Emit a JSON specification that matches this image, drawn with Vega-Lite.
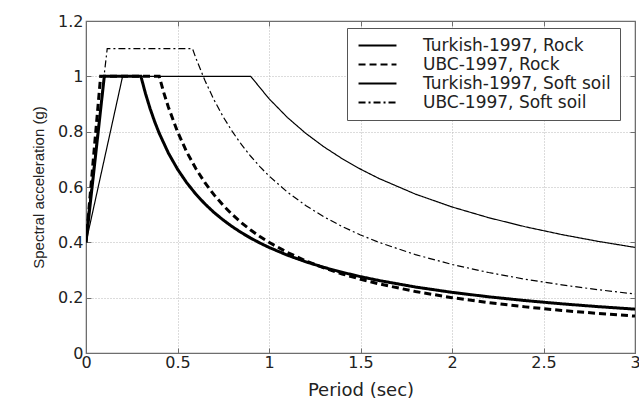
{
  "$schema": "https://vega.github.io/schema/vega-lite/v6.json",
  "width": 549,
  "height": 332,
  "autosize": {"type": "none"},
  "padding": {"left": 86, "top": 21, "right": 4, "bottom": 53},
  "background": "white",
  "config": {
    "font": "DejaVu Sans",
    "view": {"stroke": "#6e6e6e", "strokeWidth": 1.2},
    "axis": {
      "labelFont": "DejaVu Sans",
      "titleFont": "DejaVu Sans",
      "labelColor": "#222",
      "titleColor": "#222",
      "domainColor": "#6e6e6e",
      "tickColor": "#6e6e6e",
      "gridColor": "#b8b8b8",
      "gridDash": [1, 2],
      "gridWidth": 1,
      "titleFontWeight": "normal"
    }
  },
  "data": {
    "values": [
      {"series": "Turkish-1997, Rock", "site": "Rock", "T": 0, "Sa": 0.4},
      {"series": "Turkish-1997, Rock", "site": "Rock", "T": 0.1, "Sa": 1.0},
      {"series": "Turkish-1997, Rock", "site": "Rock", "T": 0.3, "Sa": 1.0},
      {"series": "Turkish-1997, Rock", "site": "Rock", "T": 0.325, "Sa": 0.938},
      {"series": "Turkish-1997, Rock", "site": "Rock", "T": 0.35, "Sa": 0.884},
      {"series": "Turkish-1997, Rock", "site": "Rock", "T": 0.375, "Sa": 0.8365},
      {"series": "Turkish-1997, Rock", "site": "Rock", "T": 0.4, "Sa": 0.7944},
      {"series": "Turkish-1997, Rock", "site": "Rock", "T": 0.45, "Sa": 0.723},
      {"series": "Turkish-1997, Rock", "site": "Rock", "T": 0.5, "Sa": 0.6645},
      {"series": "Turkish-1997, Rock", "site": "Rock", "T": 0.55, "Sa": 0.6158},
      {"series": "Turkish-1997, Rock", "site": "Rock", "T": 0.6, "Sa": 0.5743},
      {"series": "Turkish-1997, Rock", "site": "Rock", "T": 0.65, "Sa": 0.5387},
      {"series": "Turkish-1997, Rock", "site": "Rock", "T": 0.7, "Sa": 0.5077},
      {"series": "Turkish-1997, Rock", "site": "Rock", "T": 0.75, "Sa": 0.4805},
      {"series": "Turkish-1997, Rock", "site": "Rock", "T": 0.8, "Sa": 0.4563},
      {"series": "Turkish-1997, Rock", "site": "Rock", "T": 0.85, "Sa": 0.4347},
      {"series": "Turkish-1997, Rock", "site": "Rock", "T": 0.9, "Sa": 0.4152},
      {"series": "Turkish-1997, Rock", "site": "Rock", "T": 0.95, "Sa": 0.3977},
      {"series": "Turkish-1997, Rock", "site": "Rock", "T": 1.0, "Sa": 0.3817},
      {"series": "Turkish-1997, Rock", "site": "Rock", "T": 1.1, "Sa": 0.3537},
      {"series": "Turkish-1997, Rock", "site": "Rock", "T": 1.2, "Sa": 0.3299},
      {"series": "Turkish-1997, Rock", "site": "Rock", "T": 1.3, "Sa": 0.3094},
      {"series": "Turkish-1997, Rock", "site": "Rock", "T": 1.4, "Sa": 0.2916},
      {"series": "Turkish-1997, Rock", "site": "Rock", "T": 1.5, "Sa": 0.276},
      {"series": "Turkish-1997, Rock", "site": "Rock", "T": 1.6, "Sa": 0.2621},
      {"series": "Turkish-1997, Rock", "site": "Rock", "T": 1.8, "Sa": 0.2385},
      {"series": "Turkish-1997, Rock", "site": "Rock", "T": 2.0, "Sa": 0.2192},
      {"series": "Turkish-1997, Rock", "site": "Rock", "T": 2.2, "Sa": 0.2031},
      {"series": "Turkish-1997, Rock", "site": "Rock", "T": 2.4, "Sa": 0.1895},
      {"series": "Turkish-1997, Rock", "site": "Rock", "T": 2.6, "Sa": 0.1777},
      {"series": "Turkish-1997, Rock", "site": "Rock", "T": 2.8, "Sa": 0.1675},
      {"series": "Turkish-1997, Rock", "site": "Rock", "T": 3.0, "Sa": 0.1585},

      {"series": "UBC-1997, Rock", "site": "Rock", "T": 0, "Sa": 0.4},
      {"series": "UBC-1997, Rock", "site": "Rock", "T": 0.08, "Sa": 1.0},
      {"series": "UBC-1997, Rock", "site": "Rock", "T": 0.4, "Sa": 1.0},
      {"series": "UBC-1997, Rock", "site": "Rock", "T": 0.425, "Sa": 0.9412},
      {"series": "UBC-1997, Rock", "site": "Rock", "T": 0.45, "Sa": 0.8889},
      {"series": "UBC-1997, Rock", "site": "Rock", "T": 0.5, "Sa": 0.8},
      {"series": "UBC-1997, Rock", "site": "Rock", "T": 0.55, "Sa": 0.7273},
      {"series": "UBC-1997, Rock", "site": "Rock", "T": 0.6, "Sa": 0.6667},
      {"series": "UBC-1997, Rock", "site": "Rock", "T": 0.65, "Sa": 0.6154},
      {"series": "UBC-1997, Rock", "site": "Rock", "T": 0.7, "Sa": 0.5714},
      {"series": "UBC-1997, Rock", "site": "Rock", "T": 0.75, "Sa": 0.5333},
      {"series": "UBC-1997, Rock", "site": "Rock", "T": 0.8, "Sa": 0.5},
      {"series": "UBC-1997, Rock", "site": "Rock", "T": 0.85, "Sa": 0.4706},
      {"series": "UBC-1997, Rock", "site": "Rock", "T": 0.9, "Sa": 0.4444},
      {"series": "UBC-1997, Rock", "site": "Rock", "T": 0.95, "Sa": 0.4211},
      {"series": "UBC-1997, Rock", "site": "Rock", "T": 1.0, "Sa": 0.4},
      {"series": "UBC-1997, Rock", "site": "Rock", "T": 1.1, "Sa": 0.3636},
      {"series": "UBC-1997, Rock", "site": "Rock", "T": 1.2, "Sa": 0.3333},
      {"series": "UBC-1997, Rock", "site": "Rock", "T": 1.3, "Sa": 0.3077},
      {"series": "UBC-1997, Rock", "site": "Rock", "T": 1.4, "Sa": 0.2857},
      {"series": "UBC-1997, Rock", "site": "Rock", "T": 1.5, "Sa": 0.2667},
      {"series": "UBC-1997, Rock", "site": "Rock", "T": 1.6, "Sa": 0.25},
      {"series": "UBC-1997, Rock", "site": "Rock", "T": 1.8, "Sa": 0.2222},
      {"series": "UBC-1997, Rock", "site": "Rock", "T": 2.0, "Sa": 0.2},
      {"series": "UBC-1997, Rock", "site": "Rock", "T": 2.2, "Sa": 0.1818},
      {"series": "UBC-1997, Rock", "site": "Rock", "T": 2.4, "Sa": 0.1667},
      {"series": "UBC-1997, Rock", "site": "Rock", "T": 2.6, "Sa": 0.1538},
      {"series": "UBC-1997, Rock", "site": "Rock", "T": 2.8, "Sa": 0.1429},
      {"series": "UBC-1997, Rock", "site": "Rock", "T": 3.0, "Sa": 0.1333},

      {"series": "Turkish-1997, Soft soil", "site": "Soft soil", "T": 0, "Sa": 0.4},
      {"series": "Turkish-1997, Soft soil", "site": "Soft soil", "T": 0.2, "Sa": 1.0},
      {"series": "Turkish-1997, Soft soil", "site": "Soft soil", "T": 0.9, "Sa": 1.0},
      {"series": "Turkish-1997, Soft soil", "site": "Soft soil", "T": 1.0, "Sa": 0.9192},
      {"series": "Turkish-1997, Soft soil", "site": "Soft soil", "T": 1.1, "Sa": 0.8517},
      {"series": "Turkish-1997, Soft soil", "site": "Soft soil", "T": 1.2, "Sa": 0.7944},
      {"series": "Turkish-1997, Soft soil", "site": "Soft soil", "T": 1.3, "Sa": 0.7451},
      {"series": "Turkish-1997, Soft soil", "site": "Soft soil", "T": 1.4, "Sa": 0.7023},
      {"series": "Turkish-1997, Soft soil", "site": "Soft soil", "T": 1.5, "Sa": 0.6645},
      {"series": "Turkish-1997, Soft soil", "site": "Soft soil", "T": 1.6, "Sa": 0.6311},
      {"series": "Turkish-1997, Soft soil", "site": "Soft soil", "T": 1.8, "Sa": 0.5743},
      {"series": "Turkish-1997, Soft soil", "site": "Soft soil", "T": 2.0, "Sa": 0.5279},
      {"series": "Turkish-1997, Soft soil", "site": "Soft soil", "T": 2.2, "Sa": 0.4891},
      {"series": "Turkish-1997, Soft soil", "site": "Soft soil", "T": 2.4, "Sa": 0.4563},
      {"series": "Turkish-1997, Soft soil", "site": "Soft soil", "T": 2.6, "Sa": 0.428},
      {"series": "Turkish-1997, Soft soil", "site": "Soft soil", "T": 2.8, "Sa": 0.4033},
      {"series": "Turkish-1997, Soft soil", "site": "Soft soil", "T": 3.0, "Sa": 0.3817},

      {"series": "UBC-1997, Soft soil", "site": "Soft soil", "T": 0, "Sa": 0.44},
      {"series": "UBC-1997, Soft soil", "site": "Soft soil", "T": 0.116, "Sa": 1.1},
      {"series": "UBC-1997, Soft soil", "site": "Soft soil", "T": 0.582, "Sa": 1.1},
      {"series": "UBC-1997, Soft soil", "site": "Soft soil", "T": 0.6, "Sa": 1.0667},
      {"series": "UBC-1997, Soft soil", "site": "Soft soil", "T": 0.65, "Sa": 0.9846},
      {"series": "UBC-1997, Soft soil", "site": "Soft soil", "T": 0.7, "Sa": 0.9143},
      {"series": "UBC-1997, Soft soil", "site": "Soft soil", "T": 0.75, "Sa": 0.8533},
      {"series": "UBC-1997, Soft soil", "site": "Soft soil", "T": 0.8, "Sa": 0.8},
      {"series": "UBC-1997, Soft soil", "site": "Soft soil", "T": 0.85, "Sa": 0.7529},
      {"series": "UBC-1997, Soft soil", "site": "Soft soil", "T": 0.9, "Sa": 0.7111},
      {"series": "UBC-1997, Soft soil", "site": "Soft soil", "T": 0.95, "Sa": 0.6737},
      {"series": "UBC-1997, Soft soil", "site": "Soft soil", "T": 1.0, "Sa": 0.64},
      {"series": "UBC-1997, Soft soil", "site": "Soft soil", "T": 1.1, "Sa": 0.5818},
      {"series": "UBC-1997, Soft soil", "site": "Soft soil", "T": 1.2, "Sa": 0.5333},
      {"series": "UBC-1997, Soft soil", "site": "Soft soil", "T": 1.3, "Sa": 0.4923},
      {"series": "UBC-1997, Soft soil", "site": "Soft soil", "T": 1.4, "Sa": 0.4571},
      {"series": "UBC-1997, Soft soil", "site": "Soft soil", "T": 1.5, "Sa": 0.4267},
      {"series": "UBC-1997, Soft soil", "site": "Soft soil", "T": 1.6, "Sa": 0.4},
      {"series": "UBC-1997, Soft soil", "site": "Soft soil", "T": 1.8, "Sa": 0.3556},
      {"series": "UBC-1997, Soft soil", "site": "Soft soil", "T": 2.0, "Sa": 0.32},
      {"series": "UBC-1997, Soft soil", "site": "Soft soil", "T": 2.2, "Sa": 0.2909},
      {"series": "UBC-1997, Soft soil", "site": "Soft soil", "T": 2.4, "Sa": 0.2667},
      {"series": "UBC-1997, Soft soil", "site": "Soft soil", "T": 2.6, "Sa": 0.2462},
      {"series": "UBC-1997, Soft soil", "site": "Soft soil", "T": 2.8, "Sa": 0.2286},
      {"series": "UBC-1997, Soft soil", "site": "Soft soil", "T": 3.0, "Sa": 0.2133}
    ]
  },
  "resolve": {"axis": {"x": "independent", "y": "independent"}},
  "layer": [
    {
      "transform": [{"filter": {"field": "site", "equal": "Rock"}}],
      "mark": {"type": "line", "color": "black", "strokeWidth": 3, "strokeCap": "butt", "strokeJoin": "miter", "clip": true},
      "encoding": {
        "x": {
          "field": "T", "type": "quantitative",
          "scale": {"domain": [0, 3], "nice": false, "zero": false},
          "axis": {
            "title": "Period (sec)", "titleFontSize": 18, "titlePadding": 11,
            "values": [0, 0.5, 1, 1.5, 2, 2.5, 3], "format": "~g",
            "labelFontSize": 16, "labelPadding": 6, "tickSize": -5,
            "grid": true, "labelFlush": false
          }
        },
        "y": {
          "field": "Sa", "type": "quantitative",
          "scale": {"domain": [0, 1.2], "nice": false},
          "axis": {
            "title": "Spectral acceleration (g)", "titleFont": "Liberation Sans", "titleFontSize": 15, "titlePadding": 11,
            "values": [0, 0.2, 0.4, 0.6, 0.8, 1, 1.2], "format": "~g",
            "labelFontSize": 16, "labelPadding": 8, "tickSize": -5,
            "grid": true
          }
        },
        "detail": {"field": "series"},
        "strokeDash": {
          "field": "series", "type": "ordinal",
          "scale": {
            "domain": ["Turkish-1997, Rock", "UBC-1997, Rock", "Turkish-1997, Soft soil", "UBC-1997, Soft soil"],
            "range": [[1, 0], [7, 4], [1, 0], [7, 3, 2, 3]]
          },
          "legend": {
            "title": null, "orient": "none", "legendX": 261, "legendY": 7,
            "strokeColor": "#555", "fillColor": "white", "padding": 9,
            "symbolType": "M-3,0H3", "symbolSize": 160, "symbolStrokeColor": "black",
            "symbolStrokeWidth": 2, "symbolFillColor": "transparent", "symbolOffset": 13,
            "labelFontSize": 17, "labelFont": "DejaVu Sans", "labelColor": "#222",
            "labelOffset": 37, "rowPadding": 1, "labelLimit": 400
          }
        }
      }
    },
    {
      "transform": [{"filter": {"field": "site", "equal": "Soft soil"}}],
      "mark": {"type": "line", "color": "black", "strokeWidth": 1.2, "strokeCap": "butt", "strokeJoin": "miter", "clip": true},
      "encoding": {
        "x": {
          "field": "T", "type": "quantitative",
          "scale": {"domain": [0, 3], "nice": false, "zero": false},
          "axis": null
        },
        "y": {
          "field": "Sa", "type": "quantitative",
          "scale": {"domain": [0, 1.2], "nice": false},
          "axis": null
        },
        "detail": {"field": "series"},
        "strokeDash": {
          "field": "series", "type": "ordinal",
          "scale": {
            "domain": ["Turkish-1997, Rock", "UBC-1997, Rock", "Turkish-1997, Soft soil", "UBC-1997, Soft soil"],
            "range": [[1, 0], [7, 4], [1, 0], [7, 3, 2, 3]]
          }
        }
      }
    },
    {
      "mark": {"type": "point", "opacity": 0},
      "encoding": {
        "x": {
          "field": "T", "type": "quantitative",
          "scale": {"domain": [0, 3], "nice": false, "zero": false},
          "axis": {"orient": "top", "title": null, "labels": false, "values": [0, 0.5, 1, 1.5, 2, 2.5, 3], "tickSize": -5, "grid": false}
        },
        "y": {
          "field": "Sa", "type": "quantitative",
          "scale": {"domain": [0, 1.2], "nice": false},
          "axis": {"orient": "right", "title": null, "labels": false, "values": [0, 0.2, 0.4, 0.6, 0.8, 1, 1.2], "tickSize": -5, "grid": false}
        }
      }
    }
  ]
}
